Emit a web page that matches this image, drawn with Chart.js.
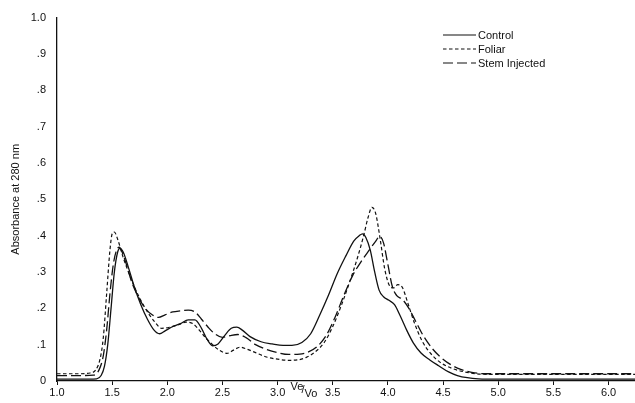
<!DOCTYPE html>
<html><head><meta charset="utf-8">
<script src="https://cdn.jsdelivr.net/npm/chart.js@4.4.1/dist/chart.umd.min.js"></script>
<style>html,body{margin:0;padding:0;background:#fff}#wrap{width:635px;height:403px}</style>
</head><body><div id="wrap"><canvas id="c" width="635" height="403"></canvas></div>
<script>
const seriesNames = ['Control', 'Foliar', 'Stem Injected'];
const xTitle = ['Ve', 'Vo'];
const yTitle = 'Absorbance at 280 nm';

const controlVe = [1.0,1.2,1.36,1.40,1.43,1.46,1.49,1.52,1.55,1.57,1.60,1.65,1.70,1.76,1.82,1.88,1.93,1.98,2.05,2.12,2.19,2.25,2.31,2.36,2.41,2.46,2.52,2.58,2.63,2.68,2.75,2.85,2.95,3.05,3.13,3.22,3.30,3.38,3.46,3.54,3.62,3.69,3.74,3.77,3.80,3.84,3.88,3.92,3.96,4.01,4.06,4.11,4.17,4.23,4.30,4.38,4.46,4.55,4.63,4.72,4.82,5.0,5.5,6.0,6.24];
const controlAbs = [0.005,0.005,0.006,0.015,0.04,0.1,0.2,0.3,0.355,0.365,0.355,0.31,0.26,0.21,0.17,0.14,0.13,0.138,0.15,0.158,0.168,0.168,0.145,0.115,0.097,0.102,0.125,0.145,0.148,0.14,0.122,0.108,0.102,0.098,0.098,0.106,0.13,0.18,0.235,0.295,0.345,0.385,0.4,0.405,0.395,0.36,0.3,0.25,0.232,0.222,0.21,0.18,0.14,0.105,0.077,0.058,0.042,0.025,0.015,0.009,0.006,0.005,0.005,0.005,0.005];

const foliarVe = [1.0,1.2,1.3,1.35,1.39,1.42,1.45,1.48,1.50,1.52,1.55,1.60,1.66,1.73,1.80,1.88,1.95,2.02,2.10,2.17,2.23,2.29,2.35,2.41,2.47,2.54,2.60,2.66,2.72,2.80,2.90,3.00,3.10,3.18,3.26,3.34,3.42,3.50,3.58,3.65,3.72,3.78,3.82,3.855,3.89,3.93,3.97,4.01,4.05,4.09,4.13,4.18,4.24,4.31,4.39,4.48,4.58,4.68,4.80,5.0,5.5,6.0,6.24];
const foliarAbs = [0.02,0.02,0.022,0.03,0.06,0.12,0.24,0.36,0.405,0.41,0.39,0.34,0.29,0.24,0.2,0.165,0.145,0.148,0.155,0.162,0.158,0.14,0.118,0.1,0.085,0.076,0.085,0.093,0.088,0.078,0.066,0.06,0.057,0.058,0.065,0.08,0.105,0.15,0.21,0.27,0.335,0.4,0.45,0.478,0.46,0.39,0.31,0.265,0.256,0.265,0.258,0.215,0.16,0.11,0.075,0.05,0.035,0.026,0.02,0.018,0.018,0.018,0.018];

const stemVe = [1.0,1.2,1.33,1.38,1.42,1.45,1.48,1.51,1.54,1.565,1.59,1.63,1.68,1.74,1.80,1.86,1.92,1.98,2.05,2.12,2.19,2.25,2.31,2.37,2.43,2.50,2.57,2.64,2.71,2.80,2.90,3.00,3.10,3.20,3.28,3.36,3.44,3.52,3.60,3.68,3.76,3.83,3.89,3.925,3.96,4.00,4.04,4.08,4.13,4.19,4.25,4.32,4.40,4.48,4.57,4.66,4.76,4.88,5.0,5.5,6.0,6.24];
const stemAbs = [0.015,0.015,0.016,0.03,0.07,0.14,0.24,0.32,0.36,0.368,0.355,0.32,0.27,0.23,0.2,0.183,0.175,0.182,0.19,0.193,0.195,0.19,0.17,0.148,0.13,0.12,0.125,0.128,0.12,0.1,0.087,0.078,0.073,0.074,0.08,0.095,0.125,0.175,0.235,0.29,0.33,0.36,0.385,0.398,0.38,0.32,0.26,0.235,0.225,0.2,0.165,0.125,0.09,0.065,0.045,0.032,0.024,0.02,0.02,0.02,0.02,0.02];

const xTicks = [1.0,1.5,2.0,2.5,3.0,3.5,4.0,4.5,5.0,5.5,6.0];
const yTickLabels = ['0','.1','.2','.3','.4','.5','.6','.7','.8','.9','1.0'];

function zip(xs, ys){ return xs.map((x,i)=>({x:x, y:ys[i]})); }

const FONT = "'Liberation Sans', Arial, Helvetica, sans-serif";
const INK = '#111';

const styles = [
  {dash: [], width: 1.3},
  {dash: [3.5, 2.5], width: 1.2},
  {dash: [10, 4], width: 1.3}
];

const overlay = {
  id: 'overlay',
  afterDraw(chart){
    const ctx = chart.ctx;
    const xs = chart.scales.x;
    ctx.save();
    // x-axis title Ve/Vo
    const px = xs.getPixelForValue(3.19);
    const base = chart.chartArea.bottom;
    ctx.fillStyle = INK;
    ctx.textBaseline = 'alphabetic';
    ctx.textAlign = 'left';
    ctx.font = '11px ' + FONT;
    ctx.fillText(xTitle[0], px - 8, base + 9);
    ctx.fillText('/', px + 3, base + 12);
    ctx.fillText(xTitle[1], px + 6, base + 16);
    // legend
    const lx0 = 443, lx1 = 476, ly = [35, 49, 63];
    ctx.font = '11px ' + FONT;
    ctx.textBaseline = 'middle';
    seriesNames.forEach((name, i) => {
      ctx.beginPath();
      ctx.setLineDash(styles[i].dash);
      ctx.lineWidth = 1.1;
      ctx.strokeStyle = INK;
      ctx.moveTo(lx0, ly[i]);
      ctx.lineTo(lx1, ly[i]);
      ctx.stroke();
      ctx.setLineDash([]);
      ctx.fillText(name, lx1 + 2, ly[i] + 1);
    });
    ctx.restore();
  }
};

const seriesData = [zip(controlVe, controlAbs), zip(foliarVe, foliarAbs), zip(stemVe, stemAbs)];

new Chart(document.getElementById('c'), {
  type: 'line',
  data: {
    datasets: seriesNames.map((name, i) => ({
      label: name,
      data: seriesData[i],
      borderColor: INK,
      borderWidth: styles[i].width,
      borderDash: styles[i].dash,
      pointRadius: 0,
      fill: false,
      cubicInterpolationMode: 'monotone'
    }))
  },
  options: {
    responsive: false,
    animation: false,
    layout: {padding: {top: 16, right: 0, left: 0, bottom: 0}},
    plugins: {legend: {display: false}, tooltip: {enabled: false}},
    scales: {
      x: {
        type: 'linear', min: 1.0, max: 6.24,
        afterBuildTicks: s => { s.ticks = xTicks.map(v => ({value: v})); },
        afterFit: s => { s.height = 22; },
        border: {display: true, color: INK, width: 1.3},
        grid: {display: true, drawOnChartArea: false, drawTicks: true, tickLength: 4, color: INK},
        ticks: {
          color: INK, font: {family: FONT, size: 11}, padding: 1,
          maxRotation: 0, autoSkip: false,
          callback: v => v.toFixed(1)
        }
      },
      y: {
        type: 'linear', min: 0, max: 1.0,
        afterBuildTicks: s => { s.ticks = yTickLabels.map((t, i) => ({value: i / 10})); },
        afterFit: s => { s.width = 57; },
        border: {display: true, color: INK, width: 1.3},
        grid: {display: false, drawTicks: false},
        title: {display: true, text: yTitle, color: INK, font: {family: FONT, size: 11}, padding: {top: 9, bottom: 0}},
        ticks: {
          color: INK, font: {family: FONT, size: 11}, padding: 11,
          autoSkip: false,
          callback: (v, i) => yTickLabels[i]
        }
      }
    }
  },
  plugins: [overlay]
});
</script>
</body></html>
